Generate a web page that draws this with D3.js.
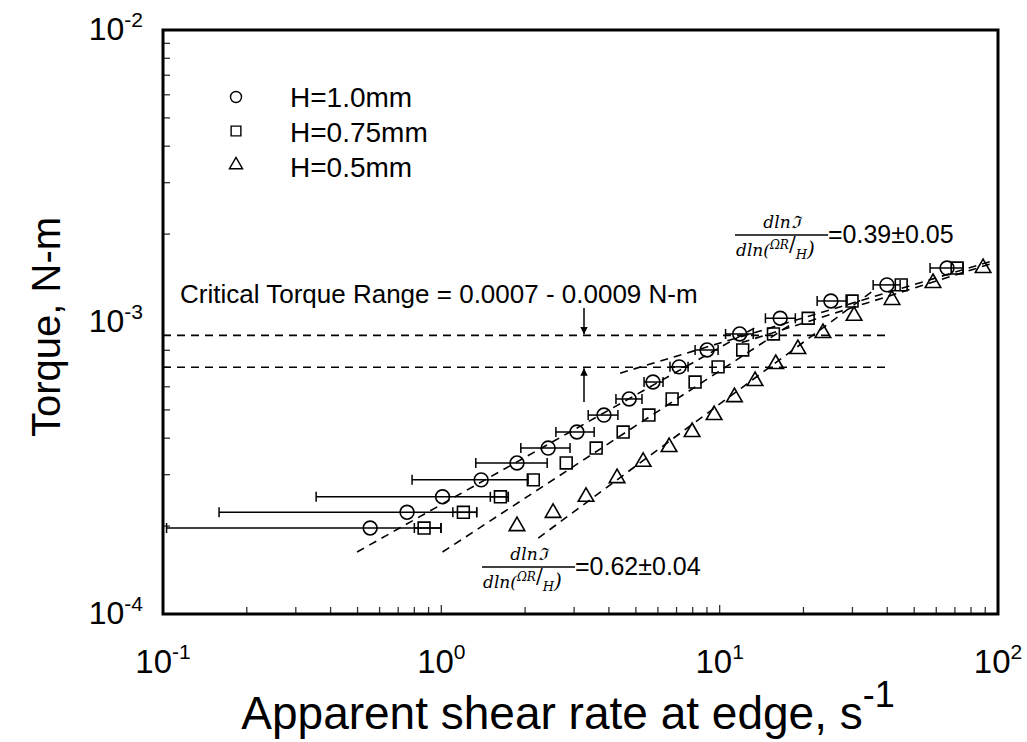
<!DOCTYPE html>
<html>
<head>
<meta charset="utf-8">
<script src="https://cdn.jsdelivr.net/npm/d3@7"></script>
<style>
  body { margin: 0; background: #fff; }
  svg text { font-family: "Liberation Sans", Arial, sans-serif; fill: #000; }
  .math { font-family: "DejaVu Serif", serif; font-style: italic; }
</style>
</head>
<body>
<svg id="chart"></svg>
<script>
// shear rate (1/s) and torque (N-m)
const shear10 = [0.555, 0.753, 1.01, 1.39, 1.87, 2.42, 3.07, 3.84, 4.73, 5.76, 7.15, 9.01, 11.8, 16.5, 25.1, 39.9, 65.6]
const torque10 = [1.97e-4, 2.23e-4, 2.52e-4, 2.88e-4, 3.29e-4, 3.70e-4, 4.20e-4, 4.80e-4, 5.45e-4, 6.23e-4, 7.02e-4, 8.02e-4, 9.10e-4, 1.03e-3, 1.18e-3, 1.34e-3, 1.53e-3]
const errLo10 = [0.103, 0.159, 0.355, 0.785, 1.33, 1.93, 2.58, 3.37, 4.24, 5.35, 6.63, 8.16, 10.5, 14.6, 22.4, 35.6, 57.0]
const errHi10 = [0.997, 1.34, 1.74, 2.05, 2.40, 2.90, 3.54, 4.31, 5.26, 6.26, 7.70, 9.87, 13.2, 18.7, 28.7, 44.5, 74.9]

const shear075 = [0.867, 1.20, 1.63, 2.14, 2.81, 3.60, 4.50, 5.57, 6.75, 8.16, 9.87, 12.1, 15.6, 20.8, 29.9, 44.9, 71.3]
const torque075 = [1.97e-4, 2.23e-4, 2.52e-4, 2.88e-4, 3.29e-4, 3.70e-4, 4.20e-4, 4.80e-4, 5.45e-4, 6.23e-4, 7.02e-4, 8.02e-4, 9.10e-4, 1.03e-3, 1.18e-3, 1.34e-3, 1.53e-3]
const errLo075 = [0.80, 1.10, 1.50]
const errHi075 = [0.997, 1.34, 1.74]

const shear05 = [1.87, 2.52, 3.31, 4.28, 5.31, 6.58, 7.96, 9.55, 11.3, 13.4, 15.9, 19.1, 23.5, 30.4, 41.6, 58.4, 88.4]
const torque05 = [2.00e-4, 2.22e-4, 2.52e-4, 2.92e-4, 3.32e-4, 3.73e-4, 4.20e-4, 4.80e-4, 5.53e-4, 6.28e-4, 7.18e-4, 8.08e-4, 9.17e-4, 1.05e-3, 1.19e-3, 1.36e-3, 1.53e-3]

const legendLabels = ["H=1.0mm", "H=0.75mm", "H=0.5mm"]
const xTickExps = [-1, 0, 1, 2]
const yTickExps = [-4, -3, -2]

// critical torque band and power-law fits: [[x0, y0], [x1, y1]]
const criticalTorque = [0.0007, 0.0009]
const criticalEnd = 41
const fitLines = [
    [[0.498, 1.63e-4], [13.5, 9.6e-4]],
    [[4.39, 6.68e-4], [97.7, 1.63e-3]],
    [[1.01, 1.63e-4], [17.9, 9.77e-4]],
    [[2.23, 1.82e-4], [36, 1.29e-3]],
    [[12, 8.5e-4], [97.7, 1.6e-3]]
]

const W = 1027, H = 742
const margin = { top: 30, right: 29, bottom: 128, left: 163 }
const width = W - margin.left - margin.right
const height = H - margin.top - margin.bottom

const svg = d3.select('#chart').attr('width', W).attr('height', H)
const g = svg.append('g').attr('transform', `translate(${margin.left}, ${margin.top})`)

const x = d3.scaleLog().domain([0.1, 100]).range([0, width])
const y = d3.scaleLog().domain([1e-4, 1e-2]).range([height, 0])

// minor ticks pointing inward
const minorX = []
const minorY = []
for (let e = -1; e < 2; e++) for (let k = 2; k <= 9; k++) minorX.push(k * Math.pow(10, e))
for (let e = -4; e < -2; e++) for (let k = 2; k <= 9; k++) minorY.push(k * Math.pow(10, e))

g.selectAll('.xminor').data(minorX).join('line')
    .attr('x1', d => x(d)).attr('x2', d => x(d))
    .attr('y1', height).attr('y2', height - 7)
    .attr('stroke', '#333').attr('stroke-width', 1.3)
g.selectAll('.yminor').data(minorY).join('line')
    .attr('y1', d => y(d)).attr('y2', d => y(d))
    .attr('x1', 0).attr('x2', 7)
    .attr('stroke', '#333').attr('stroke-width', 1.3)
g.selectAll('.xmajor').data([1, 10]).join('line')
    .attr('x1', d => x(d)).attr('x2', d => x(d))
    .attr('y1', height).attr('y2', height - 9)
    .attr('stroke', '#333').attr('stroke-width', 1.3)

// frame
g.append('rect')
    .attr('width', width).attr('height', height)
    .attr('fill', 'none').attr('stroke', '#000').attr('stroke-width', 3)

// tick labels with superscript exponents
const xLab = g.selectAll('.xlab').data(xTickExps).join('text')
    .attr('x', d => x(Math.pow(10, d)))
    .attr('y', height + 59)
    .attr('text-anchor', 'middle')
    .style('font-size', '33px')
xLab.append('tspan').text('10')
xLab.append('tspan').attr('dy', -14).style('font-size', '21px').text(d => d)

const yLab = g.selectAll('.ylab').data(yTickExps).join('text')
    .attr('x', -20)
    .attr('y', d => y(Math.pow(10, d)) + 10)
    .attr('text-anchor', 'end')
    .style('font-size', '32px')
yLab.append('tspan').text('10')
yLab.append('tspan').attr('dy', -13).style('font-size', '21px').text(d => d)

// axis titles
const xt = svg.append('text')
    .attr('x', 568).attr('y', 729)
    .attr('text-anchor', 'middle')
    .style('font-size', '46px')
xt.append('tspan').text('Apparent shear rate at edge, s')
xt.append('tspan').attr('dy', -22).style('font-size', '36px').text('-1')

svg.append('text')
    .attr('transform', 'translate(60, 327) rotate(-90)')
    .attr('text-anchor', 'middle')
    .style('font-size', '40px')
    .text('Torque, N-m')

const dash = '8,6'

// critical torque lines
g.selectAll('.crit').data(criticalTorque).join('line')
    .attr('x1', 0).attr('x2', x(criticalEnd))
    .attr('y1', d => y(d)).attr('y2', d => y(d))
    .attr('stroke', '#000').attr('stroke-width', 1.6).attr('stroke-dasharray', dash)

// fit lines
g.selectAll('.fit').data(fitLines).join('line')
    .attr('x1', d => x(d[0][0])).attr('y1', d => y(d[0][1]))
    .attr('x2', d => x(d[1][0])).attr('y2', d => y(d[1][1]))
    .attr('stroke', '#000').attr('stroke-width', 1.6).attr('stroke-dasharray', dash)

// error bars
function errorBars(xs, ys, lo, hi) {
    const rows = lo.map((l, i) => ({ l, h: hi[i], t: ys[i] }))
    const eg = g.append('g').attr('stroke', '#000').attr('stroke-width', 1.5)
    eg.selectAll('.bar').data(rows).join('line')
        .attr('x1', d => x(d.l)).attr('x2', d => x(d.h))
        .attr('y1', d => y(d.t)).attr('y2', d => y(d.t))
    eg.selectAll('.capl').data(rows).join('line')
        .attr('x1', d => x(d.l)).attr('x2', d => x(d.l))
        .attr('y1', d => y(d.t) - 5).attr('y2', d => y(d.t) + 5)
    eg.selectAll('.caph').data(rows).join('line')
        .attr('x1', d => x(d.h)).attr('x2', d => x(d.h))
        .attr('y1', d => y(d.t) - 5).attr('y2', d => y(d.t) + 5)
}
errorBars(shear10, torque10, errLo10, errHi10)
errorBars(shear075, torque075, errLo075, errHi075)

// markers
function markers(xs, ys, type, size) {
    const sym = d3.symbol().type(type).size(size)
    g.append('g').selectAll('path').data(xs).join('path')
        .attr('d', sym)
        .attr('transform', (d, i) => `translate(${x(d)}, ${y(ys[i])})`)
        .attr('fill', 'none').attr('stroke', '#000').attr('stroke-width', 1.6)
}
markers(shear10, torque10, d3.symbolCircle, 150)
markers(shear075, torque075, d3.symbolSquare, 140)
markers(shear05, torque05, d3.symbolTriangle, 105)

// legend
const types = [d3.symbolCircle, d3.symbolSquare, d3.symbolTriangle]
const leg = svg.append('g')
leg.selectAll('path').data(legendLabels).join('path')
    .attr('d', (d, i) => d3.symbol().type(types[i]).size(i === 2 ? 75 : 95)())
    .attr('transform', (d, i) => `translate(236, ${97 + i * 34})`)
    .attr('fill', 'none').attr('stroke', '#000').attr('stroke-width', 1.4)
leg.selectAll('text').data(legendLabels).join('text')
    .attr('x', 290).attr('y', (d, i) => 107 + i * 35)
    .style('font-size', '28px')
    .text(d => d)

// critical torque annotation
svg.append('text').attr('x', 180).attr('y', 303).style('font-size', '26px')
    .text('Critical Torque Range = 0.0007 - 0.0009 N-m')
svg.append('defs').append('marker')
    .attr('id', 'arrow').attr('viewBox', '0 0 10 10')
    .attr('refX', 10).attr('refY', 5)
    .attr('markerWidth', 5).attr('markerHeight', 7).attr('orient', 'auto-start-reverse')
    .append('path').attr('d', 'M0,0 L10,5 L0,10 z').attr('fill', '#000')
svg.append('line').attr('x1', 584).attr('x2', 584).attr('y1', 308).attr('y2', y(criticalTorque[1]) + margin.top - 1)
    .attr('stroke', '#000').attr('stroke-width', 1.5).attr('marker-end', 'url(#arrow)')
svg.append('line').attr('x1', 584).attr('x2', 584).attr('y1', 402).attr('y2', y(criticalTorque[0]) + margin.top + 1)
    .attr('stroke', '#000').attr('stroke-width', 1.5).attr('marker-end', 'url(#arrow)')

// slope annotations
function slopeNote(x0, yb, value) {
    const a = svg.append('g')
    a.append('text').attr('class', 'math').attr('x', x0 + 47).attr('y', yb - 7)
        .attr('text-anchor', 'middle').style('font-size', '17px').text('dlnℑ')
    a.append('line').attr('x1', x0).attr('x2', x0 + 93).attr('y1', yb).attr('y2', yb)
        .attr('stroke', '#000').attr('stroke-width', 1.4)
    const den = a.append('text').attr('class', 'math').attr('x', x0 + 1).attr('y', yb + 21)
        .style('font-size', '17px')
    den.append('tspan').text('dln(')
    den.append('tspan').attr('dy', -7).style('font-size', '12px').text('ΩR')
    den.append('tspan').attr('dy', 2).style('font-size', '20px').style('font-style', 'normal').text('/')
    den.append('tspan').attr('dy', 8).style('font-size', '13px').text('H')
    den.append('tspan').attr('dy', -3).style('font-size', '20px').text(')')
    a.append('text').attr('x', x0 + 93).attr('y', yb + 8).style('font-size', '25px').text(value)
}
slopeNote(735, 235, '=0.39±0.05')
slopeNote(482, 567, '=0.62±0.04')
</script>
</body>
</html>
